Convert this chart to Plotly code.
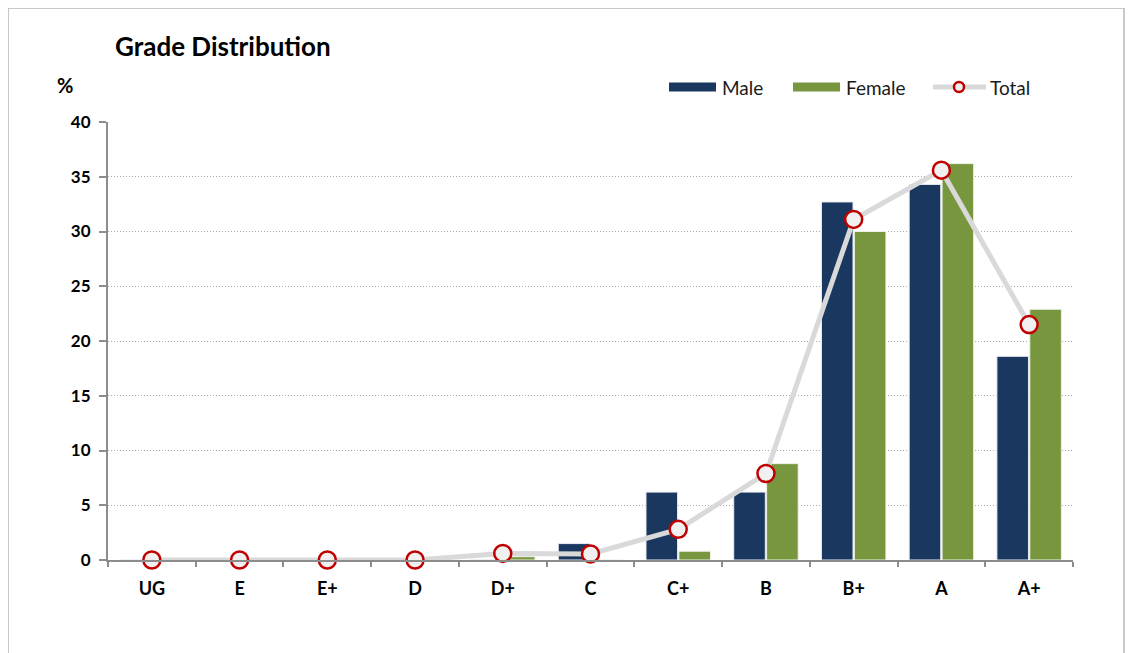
import plotly.graph_objects as go

grades = ["UG", "E", "E+", "D", "D+", "C", "C+", "B", "B+", "A", "A+"]
male = [0, 0, 0, 0, 0, 1.5, 6.2, 6.2, 32.7, 34.3, 18.6]
female = [0, 0, 0, 0, 0.3, 0, 0.8, 8.8, 30.0, 36.2, 22.9]
total = [0, 0, 0, 0, 0.6, 0.55, 2.8, 7.9, 31.1, 35.6, 21.5]
yticks = [0, 5, 10, 15, 20, 25, 30, 35, 40]

MALE_C = "#1a385f"
FEMALE_C = "#77963e"
LINE_C = "#d9d9d9"
RED = "#c00000"
FONT = "Lato"

# figure-space geometry (page is offset by 8px body margin)
L, T, R, B = 100, 114, 68, 101
W, H = 1133, 653
PW, PH = W - L - R, H - T - B


def px(sx):  # screen x -> paper x
    return (sx - 8 - L) / PW


def py(sy):  # screen y -> paper y
    return (H - B + 8 - sy) / PH


fig = go.Figure()
fig.add_trace(go.Bar(x=grades, y=male, name="Male",
                     marker=dict(color=MALE_C, line=dict(color="#e8ecf2", width=1)), showlegend=False))
fig.add_trace(go.Bar(x=grades, y=female, name="Female",
                     marker=dict(color=FEMALE_C, line=dict(color="#eef2e6", width=1)), showlegend=False))
fig.add_trace(go.Scatter(x=grades, y=total, name="Total", mode="lines+markers",
                         line=dict(color=LINE_C, width=5),
                         marker=dict(size=17, color="#f0f0f0", line=dict(color=RED, width=2.5)),
                         showlegend=False, cliponaxis=False))

# manual legend (long swatches as in the reference)
leg_y = py(87)
shapes = [
    dict(type="line", xref="paper", yref="paper", x0=px(669), x1=px(716), y0=leg_y, y1=leg_y,
         line=dict(color=MALE_C, width=9)),
    dict(type="line", xref="paper", yref="paper", x0=px(793), x1=px(840), y0=leg_y, y1=leg_y,
         line=dict(color=FEMALE_C, width=9)),
    dict(type="line", xref="paper", yref="paper", x0=px(933), x1=px(986), y0=leg_y, y1=leg_y,
         line=dict(color=LINE_C, width=5)),
    dict(type="circle", xref="paper", yref="paper", x0=px(954), x1=px(964), y0=py(92), y1=py(82),
         line=dict(color=RED, width=2.5), fillcolor="#f0f0f0"),
    dict(type="rect", xref="paper", yref="paper",
         x0=-L / PW, x1=(1116 - L) / PW, y0=-(B + 20) / PH, y1=(PH + T) / PH,
         line=dict(color="#b8b8b8", width=1.5), fillcolor="rgba(0,0,0,0)", layer="below"),
]
leg_font = dict(size=19, family=FONT, color="#1a1a1a")
annotations = [
    dict(text="Male", xref="paper", yref="paper", x=px(720), y=leg_y, xanchor="left", yanchor="middle",
         showarrow=False, font=leg_font),
    dict(text="Female", xref="paper", yref="paper", x=px(844), y=leg_y, xanchor="left", yanchor="middle",
         showarrow=False, font=leg_font),
    dict(text="Total", xref="paper", yref="paper", x=px(988), y=leg_y, xanchor="left", yanchor="middle",
         showarrow=False, font=leg_font),
    dict(text="<b>%</b>", xref="paper", yref="paper", x=px(55), y=py(85),
         xanchor="left", yanchor="middle", showarrow=False,
         font=dict(size=20, family=FONT, color="#000")),
]

fig.update_layout(
    width=W, height=H,
    margin=dict(l=L, r=R, t=T, b=B),
    paper_bgcolor="white", plot_bgcolor="white",
    barmode="group", bargap=0.25, bargroupgap=0.04,
    font=dict(family=FONT, color="#000000"),
    showlegend=False,
    title=dict(text="<b>Grade Distribution</b>", x=107 / W, xanchor="left", y=1 - 39 / H, yanchor="middle",
               font=dict(size=26, family=FONT, color="#000")),
    xaxis=dict(type="category", range=[-0.5, len(grades) - 0.5], showgrid=False, showline=True,
               linecolor="#8c8c8c", linewidth=2,
               ticks="outside", tickson="boundaries", ticklen=5, tickcolor="#8c8c8c", tickwidth=1.5,
               tickfont=dict(size=18, family=FONT, color="#000", weight="bold"), ticklabelstandoff=11),
    yaxis=dict(range=[0, 40], tickvals=yticks, showgrid=True, gridcolor="#a8a8a8", griddash="1px,2px",
               gridwidth=1.2,
               showline=True, linecolor="#8c8c8c", linewidth=2, zeroline=False,
               ticks="outside", ticklen=7, tickcolor="#8c8c8c", tickwidth=2,
               tickfont=dict(size=17, family=FONT, color="#000", weight="bold"), ticklabelstandoff=5),
    shapes=shapes,
    annotations=annotations,
)

fig.write_html("out.html")
